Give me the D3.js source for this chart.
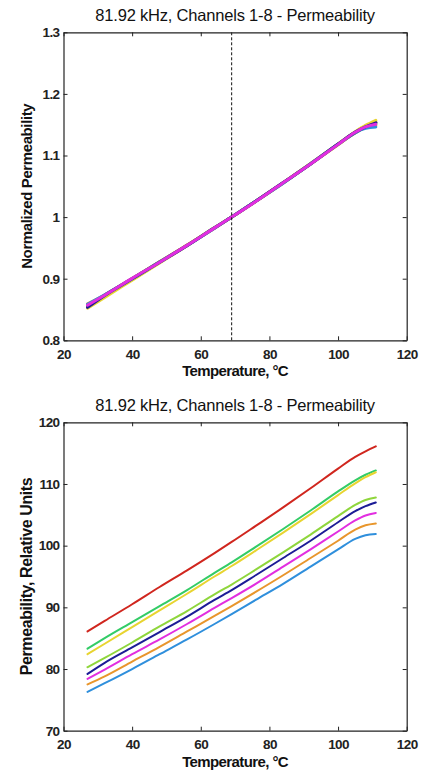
<!DOCTYPE html>
<html>
<head>
<meta charset="utf-8">
<script src="https://cdn.jsdelivr.net/npm/d3@7"></script>
<style>
  body { margin: 0; background: #fff; }
  svg { display: block; }
  .tick text { font-family: "Liberation Sans", Arial, sans-serif; font-weight: bold; font-size: 13.5px; letter-spacing: -0.6px; fill: #222; }
  .axis path, .axis line { stroke: #222; }
</style>
</head>
<body>
<svg id="chart" width="424" height="779"></svg>
<script>
var temps = [27, 32, 40, 48, 56, 64, 69, 76, 84, 92, 100, 105, 108, 111];

// relative-unit permeability per channel
var ch1 = [86.1, 87.8, 90.5, 93.3, 96.0, 98.8, 100.6, 103.2, 106.2, 109.3, 112.5, 114.4, 115.3, 116.1];
var ch2 = [83.3, 85.0, 87.6, 90.2, 92.8, 95.6, 97.3, 99.8, 102.7, 105.7, 108.8, 110.6, 111.5, 112.2];
var ch3 = [82.4, 84.1, 86.8, 89.5, 92.2, 95.0, 96.7, 99.2, 102.1, 105.1, 108.2, 110.1, 111.1, 111.9];
var ch4 = [80.3, 81.8, 84.3, 86.9, 89.4, 92.1, 93.7, 96.1, 98.9, 101.8, 104.8, 106.6, 107.4, 107.8];
var ch5 = [79.2, 81.0, 83.5, 86.0, 88.5, 91.2, 92.8, 95.2, 98.0, 100.8, 103.8, 105.6, 106.4, 107.0];
var ch6 = [78.4, 79.9, 82.4, 84.8, 87.3, 89.9, 91.5, 93.8, 96.6, 99.4, 102.3, 104.1, 104.9, 105.3];
var ch7 = [77.5, 78.8, 81.2, 83.6, 86.1, 88.6, 90.2, 92.5, 95.2, 98.0, 100.8, 102.6, 103.3, 103.6];
var ch8 = [76.3, 77.7, 80.0, 82.4, 84.8, 87.3, 88.9, 91.2, 93.8, 96.6, 99.4, 101.1, 101.7, 101.9];

var channels = [ch1, ch2, ch3, ch4, ch5, ch6, ch7, ch8];
var colors = ["#d0261e", "#33cc66", "#e8d430", "#8fd63c", "#1c1c96", "#e22ee0", "#e8962c", "#2f8fdc"];
// the normalized plot has channel 6 (magenta) drawn last
var topOrder = [0, 1, 2, 3, 6, 7, 4, 5];

var refTemp = 69; // dashed line, normalization point
var xTicks = [20, 40, 60, 80, 100, 120];
var normTicks = [0.8, 0.9, 1, 1.1, 1.2, 1.3];
var relTicks = [70, 80, 90, 100, 110, 120];

var titleText = "81.92 kHz, Channels 1-8 - Permeability";

var svg = d3.select("#chart");
var left = 63.5, right = 406.7;
var labelFont = "Liberation Sans, Arial, sans-serif";

function drawPanel(top, bottom, yDomain, yTicks, yLabel, yLabelSize, xLabel, series, order, lineW, dashed) {
    var w = right - left, h = bottom - top;
    var g = svg.append("g").attr("transform", `translate(${left}, ${top})`);

    var x = d3.scaleLinear().domain([20, 120]).range([0, w]);
    var y = d3.scaleLinear().domain(yDomain).range([h, 0]);

    var line = d3.line()
        .x((d, i) => x(temps[i]))
        .y(d => y(d))
        .curve(d3.curveMonotoneX);

    order.forEach(i => {
        g.append("path")
            .attr("d", line(series[i]))
            .attr("fill", "none")
            .attr("stroke", colors[i])
            .attr("stroke-width", lineW)
            .attr("stroke-linejoin", "round")
            .attr("stroke-linecap", "round");
    });

    if (dashed) {
        g.append("line")
            .attr("x1", x(refTemp)).attr("x2", x(refTemp))
            .attr("y1", 0).attr("y2", h)
            .attr("stroke", "#111")
            .attr("stroke-width", 1)
            .attr("stroke-dasharray", "3,2");
    }

    // box with inward ticks on all sides
    g.append("g").attr("class", "axis")
        .attr("transform", `translate(0, ${h})`)
        .call(d3.axisBottom(x).tickValues(xTicks).tickSize(-4).tickSizeOuter(0).tickPadding(9));
    g.append("g").attr("class", "axis")
        .call(d3.axisTop(x).tickValues(xTicks).tickSize(-4).tickSizeOuter(0).tickFormat(""));
    g.append("g").attr("class", "axis")
        .call(d3.axisLeft(y).tickValues(yTicks).tickSize(-4).tickSizeOuter(0).tickPadding(4).tickFormat(d3.format("~g")));
    g.append("g").attr("class", "axis")
        .attr("transform", `translate(${w}, 0)`)
        .call(d3.axisRight(y).tickValues(yTicks).tickSize(-4).tickSizeOuter(0).tickFormat(""));

    g.selectAll(".axis path").attr("stroke-width", 1.2);

    g.append("text")
        .attr("x", w / 2)
        .attr("y", -11)
        .attr("text-anchor", "middle")
        .attr("font-family", labelFont)
        .attr("font-size", "16.5px")
        .attr("letter-spacing", "-0.2px")
        .attr("fill", "#111")
        .text(titleText);

    g.append("text")
        .attr("x", w / 2)
        .attr("y", h + 36)
        .attr("text-anchor", "middle")
        .attr("font-family", labelFont)
        .attr("font-weight", "bold")
        .attr("font-size", "15px")
        .attr("letter-spacing", "-0.6px")
        .attr("fill", "#111")
        .text(xLabel);

    g.append("text")
        .attr("transform", "rotate(-90)")
        .attr("x", -h / 2)
        .attr("y", -left + 32)
        .attr("text-anchor", "middle")
        .attr("font-family", labelFont)
        .attr("font-weight", "bold")
        .attr("font-size", yLabelSize)
        .attr("letter-spacing", "-0.4px")
        .attr("fill", "#111")
        .text(yLabel);
}

// normalized to the value at the reference temperature
var refIdx = temps.indexOf(refTemp);
var normalized = channels.map(c => c.map(v => v / c[refIdx]));

drawPanel(32.3, 340.3, [0.8, 1.3], normTicks, "Normalized Permeability", "15px", "Temperature, \u00b0C", normalized, topOrder, 3, true);
drawPanel(422.3, 730.7, [70, 120], relTicks, "Permeability, Relative Units", "16px", "Temperature, \u00b0C", channels, d3.range(8), 2, false);
</script>
</body>
</html>
